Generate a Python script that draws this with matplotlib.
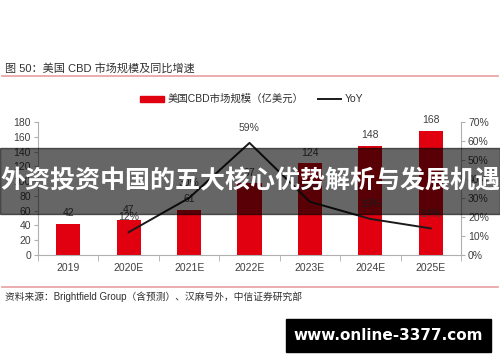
import matplotlib
matplotlib.use("Agg")
import matplotlib.pyplot as plt
from matplotlib.patches import Rectangle
from matplotlib.lines import Line2D
from matplotlib.ticker import FuncFormatter, MultipleLocator, FixedLocator

plt.rcParams['font.family'] = ['Liberation Sans', 'Noto Sans CJK SC', 'DejaVu Sans']

categories = ['2019', '2020E', '2021E', '2022E', '2023E', '2024E', '2025E']
market_size = [42, 47, 61, 97, 124, 148, 168]
yoy_x = ['2020E', '2021E', '2022E', '2023E', '2024E', '2025E']
yoy = [12, 30, 59, 28, 19, 14]
yoy_labels = ['12%', '30%', '59%', '28%', '19%', '14%']

title = '图 50：美国 CBD 市场规模及同比增速'
source = '资料来源：Brightfield Group（含预测）、汉麻号外，中信证券研究部'
bar_name = '美国CBD市场规模（亿美元）'
line_name = 'YoY'
banner = '外资投资中国的五大核心优势解析与发展机遇'
watermark = 'www.online-3377.com'

W, H = 500, 362
fig = plt.figure(figsize=(W / 100, H / 100), dpi=100)

def fx(px):
    return px / W

def fy(py):
    return 1 - py / H

RED = '#e0000f'
TXT = '#404040'
AX = '#b0b0b0'

ax = fig.add_axes([fx(38), fy(255), fx(461) - fx(38), fy(122) - fy(255)])
xpos = list(range(len(categories)))
ax.bar(xpos, market_size, width=0.4, color=RED, zorder=2)
for x, v in zip(xpos, market_size):
    ax.annotate(str(v), (x, v), xytext=(0, 4), textcoords='offset points',
                ha='center', va='bottom', fontsize=7.5, color=TXT)
ax.set_xlim(-0.5, 6.5)
ax.set_ylim(0, 180)
ax.yaxis.set_major_locator(MultipleLocator(20))
ax.set_xticks(xpos)
ax.set_xticklabels(categories, fontsize=7.5, color=TXT)
ax.xaxis.set_minor_locator(FixedLocator([i - 0.5 for i in range(8)]))
ax.tick_params(axis='x', which='major', length=0, pad=6)
ax.tick_params(axis='x', which='minor', length=4, color=AX, direction='out')
ax.tick_params(axis='y', labelsize=7.5, labelcolor=TXT, length=3, color=AX, pad=2)
for s in ['top', 'right']:
    ax.spines[s].set_visible(False)
for s in ['left', 'bottom']:
    ax.spines[s].set_color(AX)
    ax.spines[s].set_linewidth(0.8)

ax2 = ax.twinx()
lx = [categories.index(c) for c in yoy_x]
ax2.plot(lx, yoy, color='#1a1a1a', lw=1.4, zorder=3)
for x, v, t in zip(lx, yoy, yoy_labels):
    ax2.annotate(t, (x, v), xytext=(0, 7), textcoords='offset points',
                 ha='center', va='bottom', fontsize=7.5, color=TXT)
ax2.set_ylim(0, 70)
ax2.yaxis.set_major_locator(MultipleLocator(10))
ax2.yaxis.set_major_formatter(FuncFormatter(lambda v, p: f'{int(v)}%'))
ax2.tick_params(axis='y', labelsize=7.5, labelcolor=TXT, length=3, color=AX, pad=2)
for s in ['top', 'left', 'bottom']:
    ax2.spines[s].set_visible(False)
ax2.spines['right'].set_color(AX)
ax2.spines['right'].set_linewidth(0.8)

# title and rules
fig.text(fx(5), fy(68), title, fontsize=8, color='#303030', va='center', ha='left')
fig.add_artist(Line2D([fx(2), fx(498)], [fy(76), fy(76)], color='#e8a0a0', lw=1.2))
fig.add_artist(Line2D([fx(2), fx(498)], [fy(287), fy(287)], color='#e8a0a0', lw=1.2))
fig.text(fx(5), fy(297), source, fontsize=7, color='#303030', va='center', ha='left')

# legend
fig.add_artist(Rectangle((fx(140), fy(102)), fx(24), fy(96) - fy(102), color=RED))
fig.text(fx(168), fy(99), bar_name, fontsize=7.5, color='#303030', va='center', ha='left')
fig.add_artist(Line2D([fx(318), fx(341)], [fy(99), fy(99)], color='#1a1a1a', lw=1.4))
fig.text(fx(345), fy(99), line_name, fontsize=7.5, color='#303030', va='center', ha='left')

# overlay banner
fig.add_artist(Rectangle((0, fy(214)), 1, fy(148) - fy(214), color='black', alpha=0.6, zorder=10))
fig.text(0.5, fy(181), banner, fontsize=18, color='white', fontweight='bold',
         ha='center', va='center', family=['Noto Sans CJK SC'], zorder=11)

# watermark
fig.add_artist(Rectangle((fx(286), fy(352)), fx(491) - fx(286), fy(319) - fy(352), color='black', zorder=10))
fig.text(fx(388), fy(336), watermark, fontsize=11, color='white', fontweight='bold',
         ha='center', va='center', family=['DejaVu Sans'], zorder=11)

fig.savefig('out.png', dpi=100)
